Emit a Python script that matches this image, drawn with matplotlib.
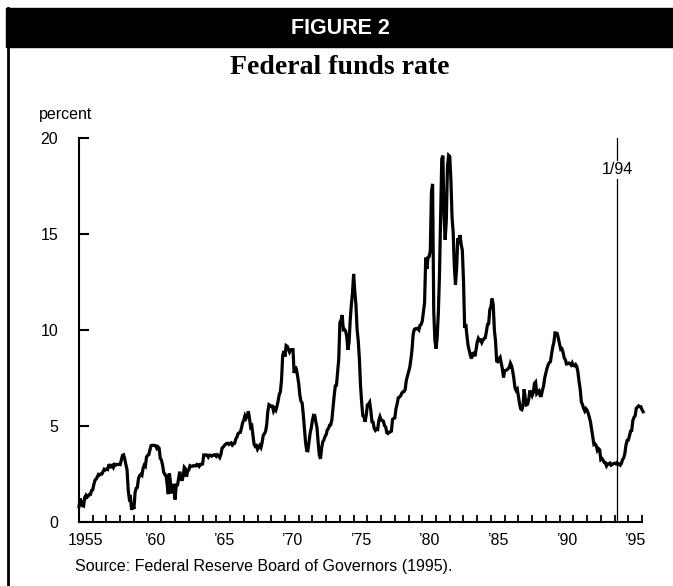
import numpy as np
import matplotlib
matplotlib.use("Agg")
import matplotlib.pyplot as plt
from matplotlib.lines import Line2D
from matplotlib.patches import Rectangle

# Monthly effective federal funds rate, percent, July 1954 - August 1995
rate_1954 = [0.80, 1.22, 1.06, 0.85, 0.83, 1.28]
rate_1955_59 = [
    1.39, 1.29, 1.35, 1.43, 1.43, 1.64, 1.68, 1.96, 2.18, 2.24, 2.35, 2.48,
    2.45, 2.50, 2.50, 2.62, 2.75, 2.71, 2.75, 2.73, 2.95, 2.96, 2.88, 2.94,
    2.84, 3.00, 2.96, 3.00, 3.00, 3.00, 2.99, 3.24, 3.47, 3.50, 3.28, 2.98,
    2.72, 1.67, 1.20, 1.26, 0.63, 0.93, 0.68, 1.53, 1.76, 1.80, 2.27, 2.42,
    2.48, 2.43, 2.80, 2.96, 2.90, 3.39, 3.47, 3.50, 3.76, 3.98, 4.00, 3.99,
]
rate_1960_64 = [
    3.99, 3.97, 3.84, 3.92, 3.85, 3.32, 3.23, 2.98, 2.60, 2.47, 2.44, 1.98,
    1.45, 2.54, 2.02, 1.49, 1.98, 1.73, 1.17, 2.00, 1.88, 2.26, 2.62, 2.33,
    2.15, 2.37, 2.85, 2.78, 2.36, 2.68, 2.71, 2.93, 2.90, 2.90, 2.94, 2.93,
    2.92, 3.00, 2.98, 2.90, 3.00, 2.99, 3.02, 3.49, 3.48, 3.50, 3.48, 3.38,
    3.48, 3.48, 3.43, 3.47, 3.50, 3.50, 3.42, 3.50, 3.45, 3.36, 3.52, 3.85,
]
rate_1965_69 = [
    3.90, 3.98, 4.04, 4.09, 4.10, 4.04, 4.09, 4.12, 4.01, 4.08, 4.10, 4.32,
    4.42, 4.60, 4.65, 4.67, 4.90, 5.17, 5.30, 5.53, 5.40, 5.53, 5.76, 5.40,
    4.94, 5.00, 4.53, 4.05, 3.94, 3.98, 3.79, 3.90, 3.99, 3.88, 4.13, 4.51,
    4.60, 4.71, 5.05, 5.76, 6.11, 6.07, 6.02, 6.03, 5.78, 5.91, 5.82, 6.02,
    6.30, 6.64, 6.79, 7.41, 8.67, 8.90, 8.61, 9.19, 9.15, 9.00, 8.85, 8.97,
]
rate_1970_74 = [
    8.98, 8.98, 7.76, 8.10, 7.95, 7.61, 7.21, 6.61, 6.29, 6.20, 5.60, 4.90,
    4.14, 3.72, 3.71, 4.16, 4.63, 4.91, 5.31, 5.56, 5.55, 5.20, 4.91, 4.14,
    3.50, 3.29, 3.83, 4.17, 4.27, 4.46, 4.55, 4.80, 4.87, 5.04, 5.06, 5.33,
    5.94, 6.58, 7.09, 7.12, 7.84, 8.49, 10.40, 10.50, 10.78, 10.01, 10.03, 9.95,
    9.65, 8.97, 9.35, 10.51, 11.31, 11.93, 12.92, 12.01, 11.34, 10.06, 9.45, 8.53,
]
rate_1975_79 = [
    7.13, 6.24, 5.54, 5.49, 5.22, 5.55, 6.10, 6.14, 6.24, 5.82, 5.22, 5.20,
    4.87, 4.77, 4.84, 4.82, 5.29, 5.48, 5.31, 5.29, 5.25, 5.02, 4.95, 4.65,
    4.61, 4.68, 4.69, 4.73, 5.35, 5.39, 5.42, 5.90, 6.14, 6.47, 6.51, 6.56,
    6.70, 6.78, 6.79, 6.89, 7.36, 7.60, 7.81, 8.04, 8.45, 8.96, 9.76, 10.03,
    10.07, 10.06, 10.09, 10.01, 10.24, 10.29, 10.47, 10.94, 11.43, 13.77, 13.18, 13.78,
]
rate_1980_84 = [
    13.82, 14.13, 17.19, 17.61, 10.98, 9.47, 9.03, 9.61, 10.87, 12.81, 15.85, 18.90,
    19.08, 15.93, 14.70, 15.72, 18.52, 19.10, 19.04, 17.82, 15.87, 15.08, 13.31, 12.37,
    13.22, 14.78, 14.68, 14.94, 14.45, 14.15, 12.59, 10.12, 10.31, 9.71, 9.20, 8.95,
    8.68, 8.51, 8.77, 8.80, 8.63, 8.98, 9.37, 9.56, 9.45, 9.48, 9.34, 9.47,
    9.56, 9.59, 9.91, 10.29, 10.32, 11.06, 11.23, 11.64, 11.30, 9.99, 9.43, 8.38,
]
rate_1985_89 = [
    8.35, 8.50, 8.58, 8.27, 7.97, 7.53, 7.88, 7.90, 7.92, 7.99, 8.05, 8.27,
    8.14, 7.86, 7.48, 6.99, 6.85, 6.92, 6.56, 6.17, 5.89, 5.85, 6.04, 6.91,
    6.43, 6.10, 6.13, 6.37, 6.85, 6.73, 6.58, 6.73, 7.22, 7.29, 6.69, 6.77,
    6.83, 6.58, 6.58, 6.87, 7.09, 7.51, 7.75, 8.01, 8.19, 8.30, 8.35, 8.76,
    9.12, 9.36, 9.85, 9.84, 9.81, 9.53, 9.24, 8.99, 9.02, 8.84, 8.55, 8.45,
]
rate_1990_95 = [
    8.23, 8.24, 8.28, 8.26, 8.18, 8.29, 8.15, 8.13, 8.20, 8.11, 7.81, 7.31,
    6.91, 6.25, 6.12, 5.91, 5.78, 5.90, 5.82, 5.66, 5.45, 5.21, 4.81, 4.43,
    4.03, 4.06, 3.98, 3.73, 3.82, 3.76, 3.25, 3.30, 3.22, 3.10, 3.09, 2.92,
    3.02, 3.03, 3.07, 2.96, 3.00, 3.04, 3.06, 3.03, 3.09, 2.99, 3.02, 2.96,
    3.05, 3.25, 3.34, 3.56, 4.01, 4.25, 4.26, 4.47, 4.73, 4.76, 5.29, 5.45,
    5.53, 5.92, 5.98, 6.05, 6.01, 6.00, 5.85, 5.74,
]

rate = np.array(rate_1954 + rate_1955_59 + rate_1960_64 + rate_1965_69 + rate_1970_74
                + rate_1975_79 + rate_1980_84 + rate_1985_89 + rate_1990_95)
months = 1954.5 + np.arange(len(rate)) / 12.0

label_years = [1955, 1960, 1965, 1970, 1975, 1980, 1985, 1990, 1995]
label_text = ["1955", "\u201960", "\u201965", "\u201970", "\u201975",
              "\u201980", "\u201985", "\u201990", "\u201995"]
y_ticks = [0, 5, 10, 15, 20]
marker_x = 1993.7
marker_label = "1/94"

sans = "Liberation Sans"
W, H = 673, 586
fig = plt.figure(figsize=(W / 100, H / 100), dpi=100)

# header bar and left rule
fig.patches.append(Rectangle((6 / W, 1 - 47 / H), 1 - 6 / W, 39 / H,
                             transform=fig.transFigure, color="black", zorder=0))
fig.lines.append(Line2D([8 / W, 8 / W], [0, 1 - 8 / H], transform=fig.transFigure,
                        color="black", lw=2.0))
fig.text(340 / W, 1 - 29 / H, "FIGURE 2", color="white", ha="center", va="center",
         fontsize=15.5, fontweight="bold", family=sans)
fig.text(340 / W, 1 - 68 / H, "Federal funds rate", ha="center", va="center",
         fontsize=20, fontweight="bold", family="Liberation Serif")
fig.text(39 / W, 1 - 114 / H, "percent", ha="left", va="center",
         fontsize=11.5, family=sans)
fig.text(75 / W, 1 - 567 / H, "Source: Federal Reserve Board of Governors (1995).",
         ha="left", va="center", fontsize=11.5, family=sans)

left, right = 79 / W, 642 / W
bottom, top = 1 - 522 / H, 1 - 138 / H
ax = fig.add_axes([left, bottom, right - left, top - bottom])

ax.plot(months, rate, color="black", lw=2.3, solid_joinstyle="miter", clip_on=False)
ax.axvline(marker_x, color="black", lw=0.9)
ax.text(marker_x, 18.35, marker_label, ha="center", va="center", fontsize=11.5,
        family=sans, bbox=dict(facecolor="white", edgecolor="none", pad=1.0))

ax.set_xlim(1954.5, 1995.5)
ax.set_ylim(0, 20)
for s in ["top", "right"]:
    ax.spines[s].set_visible(False)
for s in ["left", "bottom"]:
    ax.spines[s].set_linewidth(1.5)

ax.set_yticks(y_ticks)
ax.set_yticklabels([str(v) for v in y_ticks], family=sans, fontsize=11.5)
ax.tick_params(axis="y", direction="in", length=7, width=1.5, pad=15)

ax.set_xticks(np.arange(1954.5, 1995.6, 1.0))
ax.set_xticklabels([])
ax.tick_params(axis="x", which="major", direction="in", length=5, width=1.3)
ax.set_xticks(label_years, minor=True)
ax.set_xticklabels(label_text, minor=True, family=sans, fontsize=11.5)
ax.tick_params(axis="x", which="minor", length=0, pad=8)

fig.savefig("out.png", dpi=100)
